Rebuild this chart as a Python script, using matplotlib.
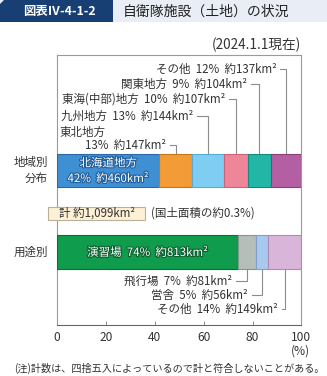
import matplotlib
matplotlib.use("Agg")
import matplotlib.pyplot as plt
import matplotlib.patheffects as pe
from matplotlib.patches import Rectangle, Polygon

plt.rcParams['font.family'] = ['Noto Sans CJK JP', 'DejaVu Sans']

# ---- data ----
region_names = ["北海道地方", "東北地方", "九州地方", "東海(中部)地方", "関東地方", "その他"]
region_pct = [42, 13, 13, 10, 9, 12]
region_km2 = [460, 147, 144, 107, 104, 137]
use_names = ["演習場", "飛行場", "営舎", "その他"]
use_pct = [74, 7, 5, 14]
use_km2 = [813, 81, 56, 149]
total_km2 = 1099
row_labels = ["地域別\n分布", "用途別"]
xticks = [0, 20, 40, 60, 80, 100]

region_colors = ["#3f8fd3", "#f39b37", "#80cdf3", "#ef8599", "#22b6a6", "#b45ea4"]
region_edges = ["#2a6aa8", "#c8761c", "#5aaad6", "#c9627a", "#16897c", "#8a3f7d"]
use_colors = ["#0f9c4d", "#b5beb9", "#a9c9ee", "#d9b5d9"]
use_edges = ["#0a6e36", "#8a948f", "#7f9fcc", "#b08ab0"]

W, H = 327, 376
fig = plt.figure(figsize=(W / 100, H / 100), dpi=100)

# axes in pixel layout
ax_l, ax_r, ax_t, ax_b = 57.0, 301.5, 55.0, 325.0
ax = fig.add_axes([ax_l / W, 1 - ax_b / H, (ax_r - ax_l) / W, (ax_b - ax_t) / H])
ax.set_xlim(0, 100)
ax.set_ylim(ax_b, ax_t)  # y in pixel units (top down)
pxx = 100.0 / (ax_r - ax_l)  # data units per pixel in x

TC = "#333333"
FS = 8.3
LC = "#8c8c8c"
SP = "  "
KM = "km²"

bar1_y, bar1_h = 170.5, 33
bar2_y, bar2_h = 252.0, 34

def fracs(vals):
    tot = sum(vals)
    lefts, widths = [], []
    acc = 0
    for v in vals:
        lefts.append(acc / tot * 100)
        widths.append(v / tot * 100)
        acc += v
    return lefts, widths

l1, w1 = fracs(region_km2)
ax.barh([bar1_y] * len(w1), w1, left=l1, height=bar1_h, color=region_colors,
        edgecolor=region_edges, linewidth=0.8, zorder=3)
l2, w2 = fracs(use_km2)
ax.barh([bar2_y] * len(w2), w2, left=l2, height=bar2_h, color=use_colors,
        edgecolor=use_edges, linewidth=0.8, zorder=3)

# spines
for s in ["left", "right", "top", "bottom"]:
    ax.spines[s].set_color("#9a9a9a")
    ax.spines[s].set_linewidth(0.8)
ax.spines["bottom"].set_color("#666666")
ax.set_yticks([])
ax.set_xticks(xticks)
ax.set_xticklabels([str(t) for t in xticks], fontsize=8.6, color=TC)
ax.tick_params(axis="x", direction="in", length=3, width=0.7, color="#888888", pad=4)

# in-bar labels
stroke_b = [pe.withStroke(linewidth=1.6, foreground="#1f5d9c")]
ax.text(l1[0] + w1[0] / 2, bar1_y - 7.5, region_names[0], ha="center", va="center",
        fontsize=FS, color="white", path_effects=stroke_b, zorder=5)
ax.text(l1[0] + w1[0] / 2, bar1_y + 8, f"{region_pct[0]}%{SP}約{region_km2[0]}{KM}",
        ha="center", va="center", fontsize=FS, color="white", path_effects=stroke_b, zorder=5)
stroke_g = [pe.withStroke(linewidth=1.6, foreground="#0a5e2e")]
ax.text(l2[0] + w2[0] / 2, bar2_y + 0.5, f"{use_names[0]}{SP}{use_pct[0]}%{SP}約{use_km2[0]}{KM}",
        ha="center", va="center", fontsize=FS, color="white", path_effects=stroke_g, zorder=5)

# callouts above bar 1
label_y1 = [None, 145, 116, 99, 84, 69]
text_gap = [None, 10, 15, 11, 12, 10]
bar1_top = bar1_y - bar1_h / 2
for i in range(1, len(region_names)):
    cx = l1[i] + w1[i] / 2
    ty = label_y1[i]
    if i == 1:
        txt = f"{region_pct[i]}%{SP}約{region_km2[i]}{KM}"
    else:
        txt = f"{region_names[i]}{SP}{region_pct[i]}%{SP}約{region_km2[i]}{KM}"
    ax.text(cx - text_gap[i] * pxx, ty, txt, ha="right", va="center", fontsize=FS, color=TC)
    ax.plot([cx - (text_gap[i] - 4) * pxx, cx, cx], [ty, ty, bar1_top], color=LC, lw=0.8,
            solid_joinstyle="miter", zorder=2)
ax.text(3 * pxx, 132, region_names[1], ha="left", va="center", fontsize=FS, color=TC)

# callouts below bar 2
label_y2 = [None, 281, 295, 309]
text_gap2 = [None, 15, 14, 7]
bar2_bot = bar2_y + bar2_h / 2
for i in range(1, len(use_names)):
    cx = l2[i] + w2[i] / 2
    ty = label_y2[i]
    txt = f"{use_names[i]}{SP}{use_pct[i]}%{SP}約{use_km2[i]}{KM}"
    ax.text(cx - text_gap2[i] * pxx, ty, txt, ha="right", va="center", fontsize=FS, color=TC)
    ax.plot([cx - (text_gap2[i] - 4) * pxx, cx, cx], [ty, ty, bar2_bot], color=LC, lw=0.8,
            solid_joinstyle="miter", zorder=2)

# total box
def fx(px):
    return px / W

def fy(py):
    return 1 - py / H

fig.patches.append(Rectangle((fx(48), fy(220)), (145 - 48) / W, 13 / H, transform=fig.transFigure,
                             facecolor="#fdf0d4", edgecolor="#b9b09a", linewidth=0.8))
fig.text(fx(96.5), fy(213.5), f"計 約1,{total_km2 % 1000:03d}{KM}", ha="center", va="center",
         fontsize=FS, color=TC)
fig.text(fx(151), fy(213.5), "(国土面積の約0.3%)", ha="left", va="center", fontsize=FS, color=TC)

# row labels
fig.text(fx(48), fy(bar1_y), row_labels[0], ha="right", va="center", fontsize=FS, color=TC,
         linespacing=1.3)
fig.text(fx(48), fy(bar2_y), row_labels[1], ha="right", va="center", fontsize=FS, color=TC)

# % unit
fig.text(fx(300), fy(351), "(%)", ha="center", va="center", fontsize=8.6, color=TC)

# date
fig.text(fx(301), fy(45), "(2024.1.1現在)", ha="right", va="center", fontsize=9.8, color=TC)

# header
fig.patches.append(Rectangle((0, fy(22)), 1, 22 / H, transform=fig.transFigure,
                             facecolor="#e9eef6", edgecolor="none"))
fig.patches.append(Polygon([[fx(4), fy(0)], [fx(113), fy(0)], [fx(113), fy(22)], [fx(0), fy(22)],
                            [fx(0), fy(4)]], closed=True, transform=fig.transFigure,
                           facecolor="#173f73", edgecolor="none"))
fig.text(fx(59), fy(11.5), "図表Ⅳ-4-1-2", ha="center", va="center", fontsize=8.9,
         color="white", fontweight="bold")
fig.text(fx(123), fy(11.5), "自衛隊施設（土地）の状況", ha="left", va="center", fontsize=10,
         color="#222222")

# footnote
fig.text(fx(14), fy(368), "(注)計数は、四捨五入によっているので計と符合しないことがある。",
         ha="left", va="center", fontsize=7.3, color=TC)

fig.savefig("out.png", dpi=100)
